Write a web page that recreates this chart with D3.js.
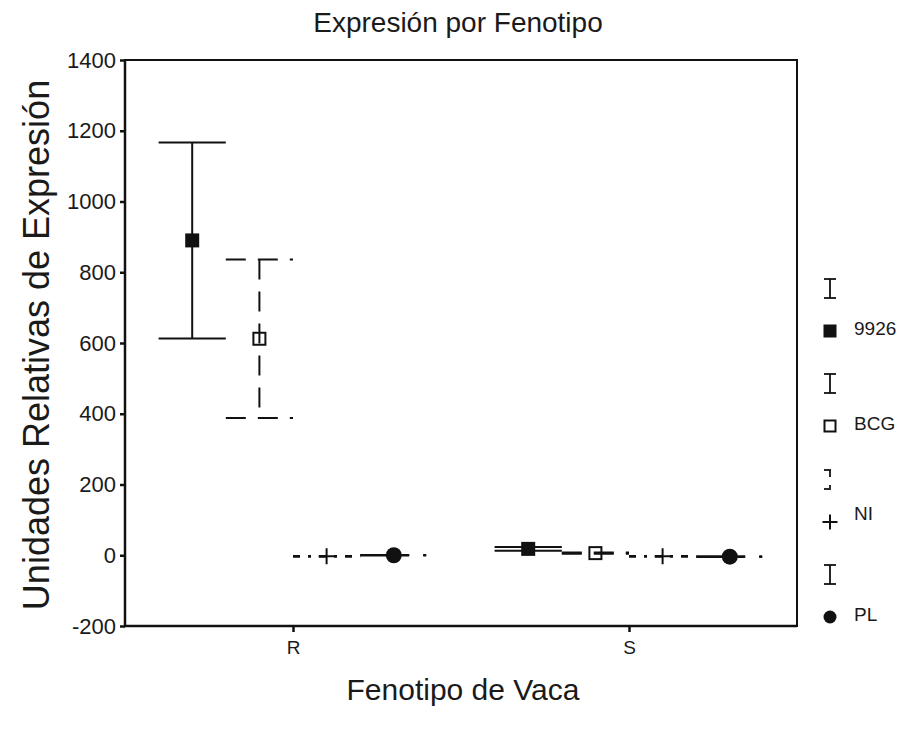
<!DOCTYPE html>
<html>
<head>
<meta charset="utf-8">
<script src="https://cdn.jsdelivr.net/npm/d3@7/dist/d3.min.js"></script>
<style>
  html, body { margin: 0; padding: 0; background: #fff; }
  svg { display: block; font-family: "Liberation Sans", Arial, sans-serif; }
  text { fill: #1a1a1a; }
</style>
</head>
<body>
<svg id="chart" width="906" height="732"></svg>
<script>
// Phenotype groups and treatment series
const groups = ["R", "S"];
const seriesNames = ["9926", "BCG", "NI", "PL"];

// Mean relative expression per series, one array per phenotype
const meanR = [890, 612, -3, 0];
const meanS = [18, 6, -3, -4];

// Half-length of each error bar (mean ± this value)
const halfR = [277, 224, 1, 1];
const halfS = [5, 2, 1, 1];

const yTicks = [-200, 0, 200, 400, 600, 800, 1000, 1200, 1400];

const svg = d3.select("#chart");
const plotLeft = 125, plotRight = 797, plotTop = 60, plotBottom = 626;

const x = d3.scalePoint().domain(groups).range([plotLeft, plotRight]).padding(0.5);
const step = x.step();
const sub = d3.scaleBand().domain(seriesNames).range([-0.4 * step, 0.4 * step]);
const y = d3.scaleLinear().domain([-200, 1400]).range([plotBottom, plotTop]);

// line styles for each series
const dashes = {
  "9926": null,
  "BCG": "20,12",
  "NI": "7,8,3,8",
  "PL": "34,7,8,14,3,40"
};

const rows = [];
groups.forEach((g, gi) => {
  const m = gi === 0 ? meanR : meanS;
  const h = gi === 0 ? halfR : halfS;
  seriesNames.forEach((s, si) => {
    rows.push({ group: g, series: s, mean: m[si], lo: m[si] - h[si], hi: m[si] + h[si] });
  });
});

// plot frame
svg.append("rect")
  .attr("x", plotLeft).attr("y", plotTop)
  .attr("width", plotRight - plotLeft).attr("height", plotBottom - plotTop)
  .attr("fill", "none").attr("stroke", "#111").attr("stroke-width", 2);
// heavier left and bottom axis lines
svg.append("path")
  .attr("d", `M${plotLeft},${plotTop}V${plotBottom}H${plotRight}`)
  .attr("fill", "none").attr("stroke", "#111").attr("stroke-width", 2.5);

// y axis
const yAxis = svg.append("g")
  .attr("transform", `translate(${plotLeft},0)`)
  .call(d3.axisLeft(y).tickValues(yTicks).tickSize(5).tickPadding(4).tickFormat(d => String(d)));
yAxis.select(".domain").remove();
yAxis.selectAll(".tick line").attr("stroke", "#111").attr("stroke-width", 2.5);
yAxis.selectAll(".tick text").attr("font-size", 22).attr("font-family", "Liberation Sans, Arial, sans-serif").attr("fill", "#1a1a1a");

// x axis
const xAxis = svg.append("g")
  .attr("transform", `translate(0,${plotBottom})`)
  .call(d3.axisBottom(x).tickSize(6).tickPadding(9));
xAxis.select(".domain").remove();
xAxis.selectAll(".tick line").attr("stroke", "#111").attr("stroke-width", 2.5);
xAxis.selectAll(".tick text").attr("font-size", 19).attr("font-family", "Liberation Sans, Arial, sans-serif").attr("fill", "#1a1a1a");

// error bars
const bars = svg.append("g").selectAll("g.bar").data(rows).join("g").attr("class", "bar");
const cx = d => x(d.group) + sub(d.series) + sub.bandwidth() / 2;
const capL = d => x(d.group) + sub(d.series);
const capR = d => x(d.group) + sub(d.series) + sub.bandwidth();

function styled(sel) {
  return sel.attr("stroke", "#111").attr("stroke-width", 2).attr("fill", "none")
    .attr("stroke-dasharray", d => dashes[d.series]);
}
styled(bars.append("line")
  .attr("x1", cx).attr("x2", cx)
  .attr("y1", d => y(d.hi)).attr("y2", d => y(d.lo)));
styled(bars.append("line")
  .attr("x1", capL).attr("x2", capR)
  .attr("y1", d => y(d.hi)).attr("y2", d => y(d.hi)));
styled(bars.append("line")
  .attr("x1", capL).attr("x2", capR)
  .attr("y1", d => y(d.lo)).attr("y2", d => y(d.lo)));

// markers
function marker(sel, s, size) {
  if (s === "9926") {
    sel.append("rect").attr("x", -size / 2).attr("y", -size / 2).attr("width", size).attr("height", size).attr("fill", "#111");
  } else if (s === "BCG") {
    sel.append("rect").attr("x", -size / 2 + 1).attr("y", -size / 2 + 1).attr("width", size - 2).attr("height", size - 2)
      .attr("fill", "none").attr("stroke", "#111").attr("stroke-width", 2);
  } else if (s === "NI") {
    sel.append("path").attr("d", `M${-size / 2},0H${size / 2}M0,${-size / 2}V${size / 2}`)
      .attr("stroke", "#111").attr("stroke-width", 2);
  } else {
    sel.append("circle").attr("r", size / 2).attr("fill", "#111");
  }
}
const markerSize = { "9926": 14, "BCG": 14, "NI": 16, "PL": 16 };
rows.forEach(d => {
  const g = svg.append("g").attr("transform", `translate(${cx(d)},${y(d.mean)})`);
  marker(g, d.series, markerSize[d.series]);
});

// legend
const legY = [331, 426, 522, 617];
const legX = 830;
seriesNames.forEach((s, i) => {
  const yy = legY[i];
  const eb = svg.append("g").datum({ series: s });
  const t0 = yy - 52, b0 = yy - 33;
  styled(eb.append("line").attr("x1", legX).attr("x2", legX).attr("y1", t0).attr("y2", b0)).attr("stroke-width", 1.8);
  styled(eb.append("line").attr("x1", legX - 6).attr("x2", legX + 6).attr("y1", t0).attr("y2", t0)).attr("stroke-width", 1.8);
  styled(eb.append("line").attr("x1", legX - 6).attr("x2", legX + 6).attr("y1", b0).attr("y2", b0)).attr("stroke-width", 1.8);
  const mg = svg.append("g").attr("transform", `translate(${legX},${yy})`);
  marker(mg, s, s === "NI" ? 15 : 13);
  svg.append("text").attr("x", 854).attr("y", yy + (s === "NI" ? -2 : 4))
    .attr("font-size", 19).text(s);
});

// titles
svg.append("text").attr("x", 458).attr("y", 32).attr("text-anchor", "middle")
  .attr("font-size", 28).text("Expresión por Fenotipo");
svg.append("text").attr("x", 463).attr("y", 700).attr("text-anchor", "middle")
  .attr("font-size", 30).text("Fenotipo de Vaca");
svg.append("text").attr("transform", "translate(49,345) rotate(-90)").attr("text-anchor", "middle")
  .attr("font-size", 36).text("Unidades Relativas de Expresión");
</script>
</body>
</html>
